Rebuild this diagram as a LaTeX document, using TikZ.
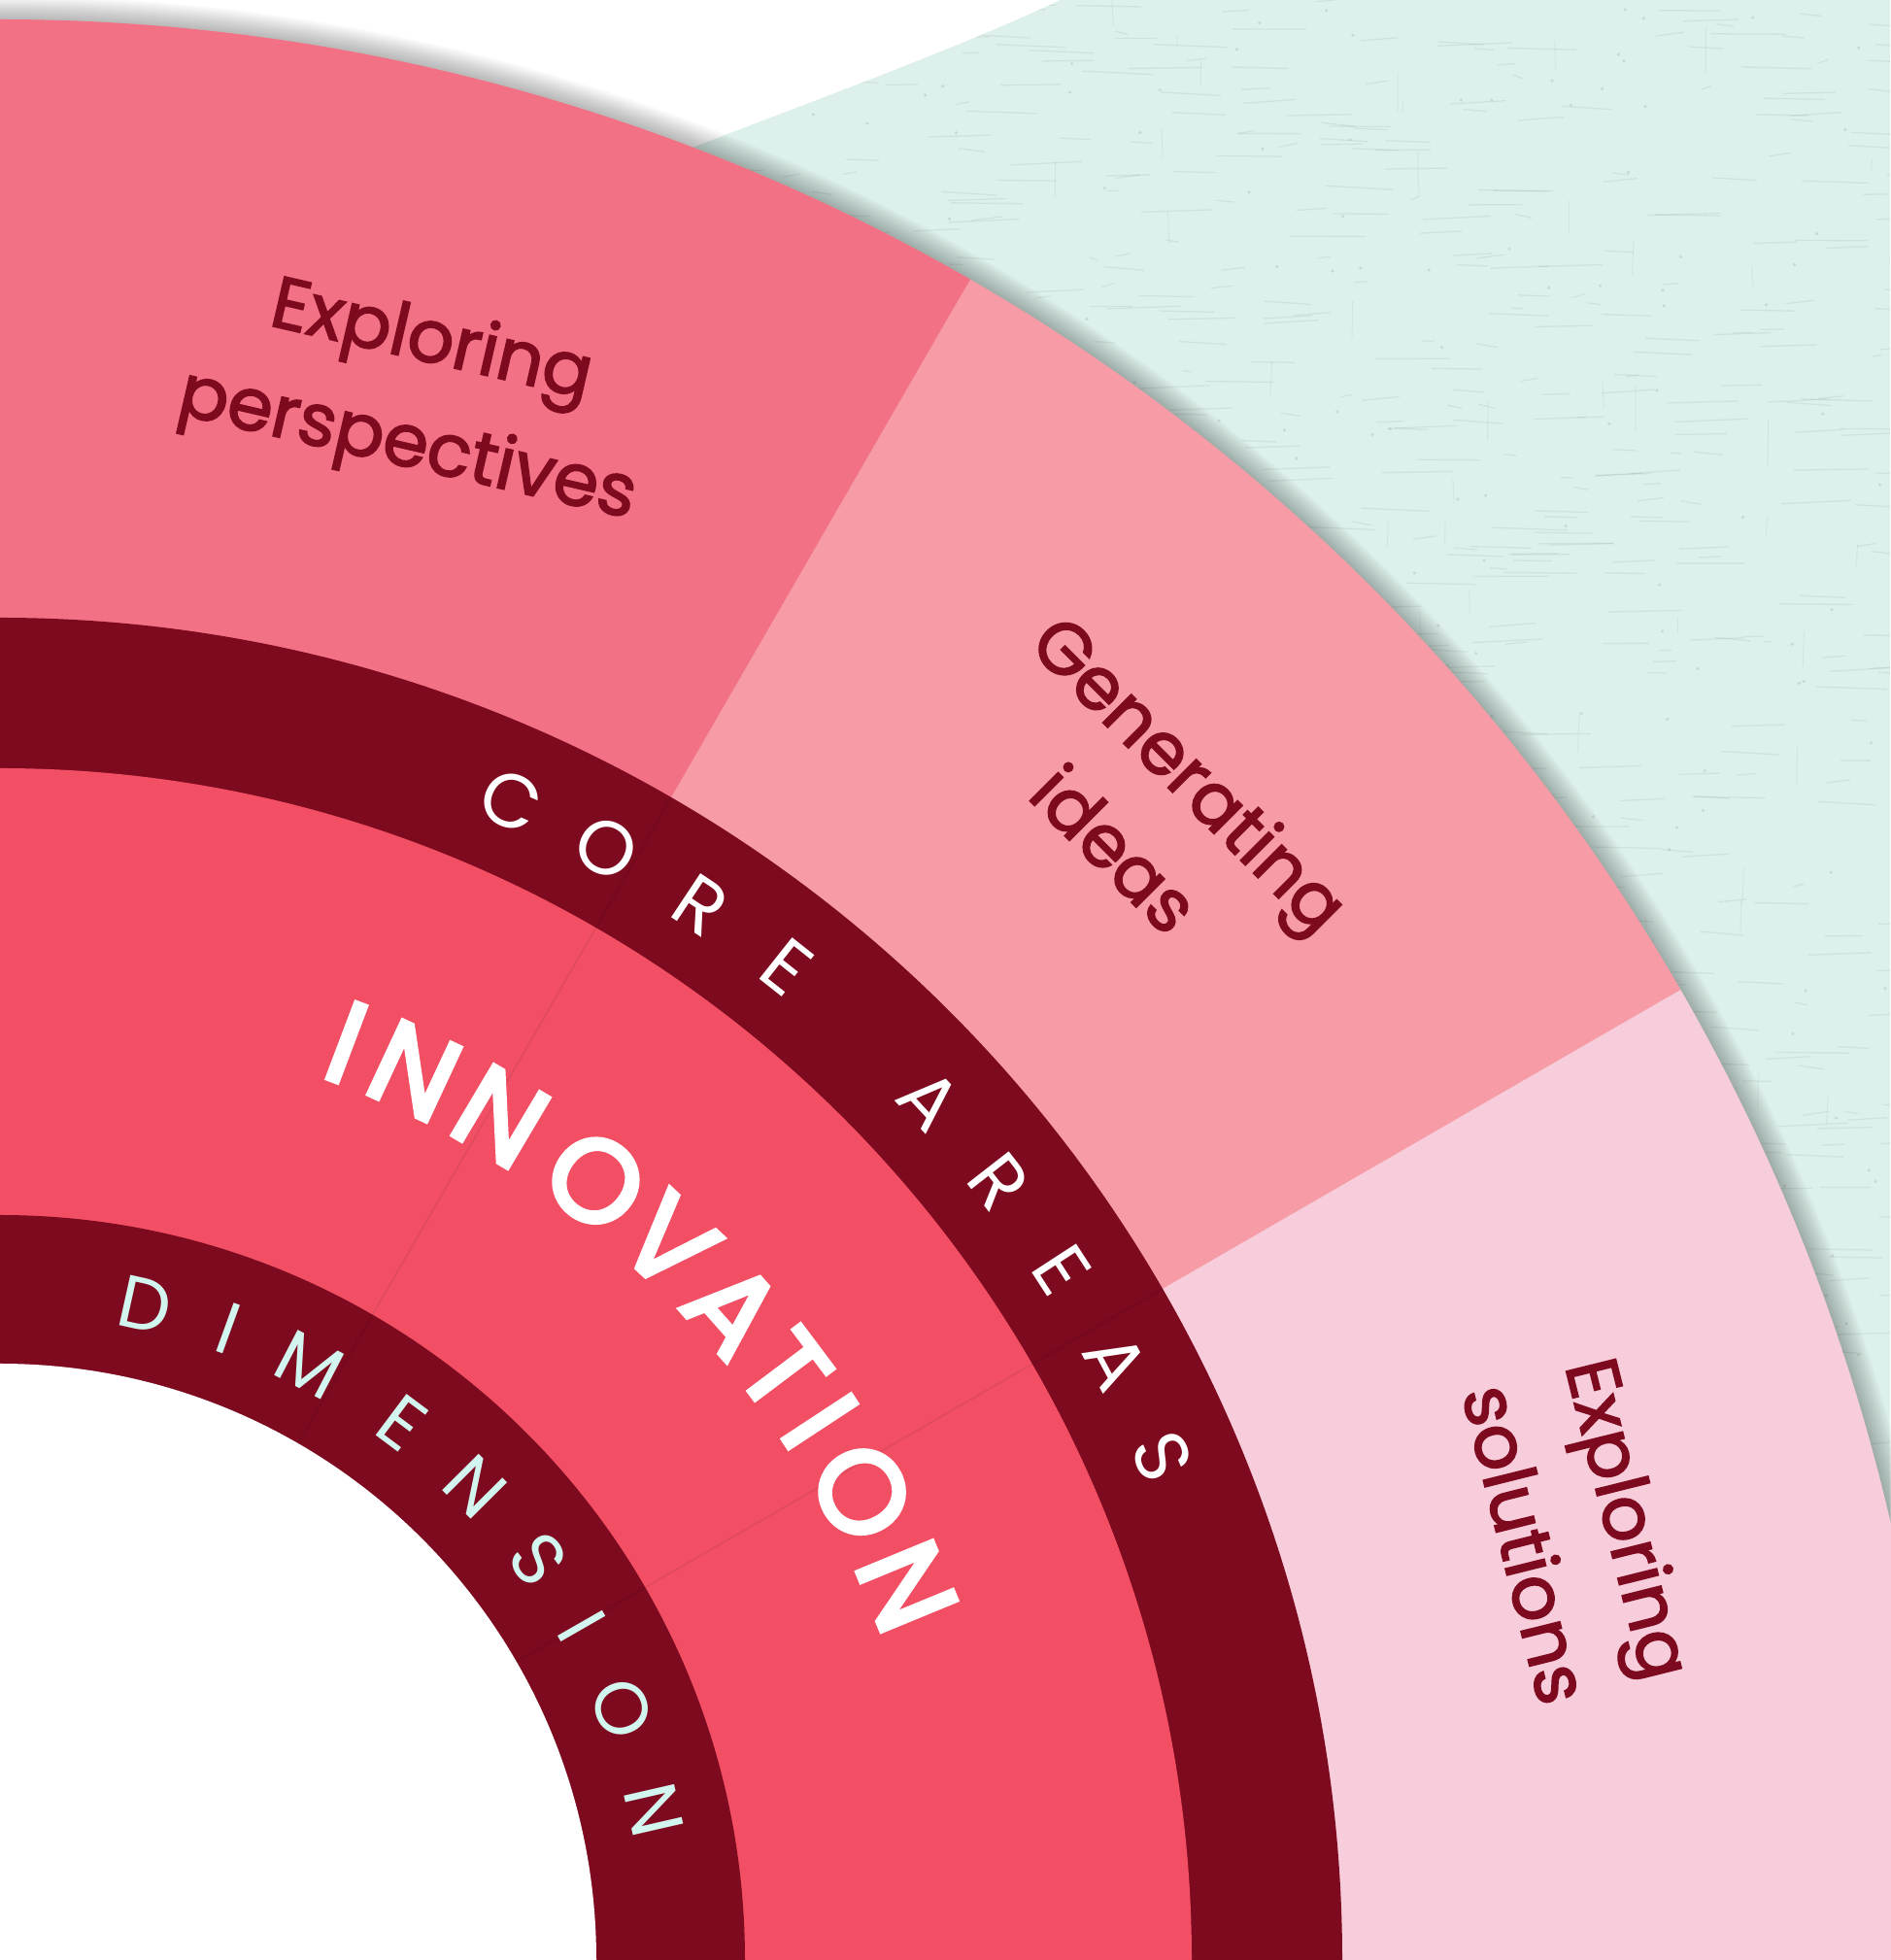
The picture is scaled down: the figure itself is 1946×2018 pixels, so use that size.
\documentclass[tikz,border=0pt]{standalone}
\usepackage{fontspec}
\setmainfont{Poppins}
\newfontfamily\labelfont[FakeBold=2.2]{Poppins}
\newfontfamily\innovfont[FakeBold=4]{Poppins}
\definecolor{ringdark}{HTML}{7D0A1F}
\definecolor{innov}{HTML}{F24F64}
\definecolor{persp}{HTML}{F37184}
\definecolor{gener}{HTML}{F79CA7}
\definecolor{solut}{HTML}{F8CDDB}
\definecolor{mintbg}{HTML}{DDF0EB}
\definecolor{minttext}{HTML}{D3F5EF}
\definecolor{labeltext}{HTML}{7D0A1F}
\definecolor{texgrey}{HTML}{8A9B96}
\begin{document}
\begin{tikzpicture}[x=1pt,y=1pt,
  sectorlabel/.style={text=labeltext, align=center, inner sep=0pt,
    font=\labelfont\fontsize{75}{110}\selectfont},
  coreletter/.style={text=white, inner sep=0pt, font=\fontsize{78}{78}\selectfont},
  innovletter/.style={text=white, inner sep=0pt, font=\innovfont\fontsize{120}{120}\selectfont},
  dimletter/.style={text=minttext, inner sep=0pt, font=\fontsize{76}{76}\selectfont},
  seam/.style={draw=black, opacity=0.06, line width=2pt},
  ringshadow/.style={draw=black, opacity=0.022}]
\useasboundingbox (0,0) rectangle (1946,2018);
% paper background
\fill[white] (0,0) rectangle (1946,2018);
% mint textured surface
\path[fill=mintbg] (1092,2018) -- (1946,2018) -- (1946,0) -- (0,0) -- (0,1500)
  -- (713,1866) .. controls (850,1919) and (985,1968) .. (1092,2018) -- cycle;
\begin{scope}
  \clip (1092,2018) -- (1946,2018) -- (1946,0) -- (0,0) -- (0,1500)
  -- (713,1866) .. controls (850,1919) and (985,1968) .. (1092,2018) -- cycle;
  \pgfmathsetseed{42}
  \foreach \n in {1,...,1200}{
    \pgfmathsetmacro{\xx}{700+1246*rnd}
    \pgfmathsetmacro{\yy}{2018*rnd}
    \pgfmathsetmacro{\ll}{8+70*rnd}
    \pgfmathsetmacro{\dd}{8*rnd-4}
    \draw[texgrey, opacity=0.16, line width=1.3pt] (\xx,\yy) -- ++(\ll,\dd);
  }
  \foreach \n in {1,...,120}{
    \pgfmathsetmacro{\xx}{700+1246*rnd}
    \pgfmathsetmacro{\yy}{2018*rnd}
    \pgfmathsetmacro{\ll}{10+40*rnd}
    \draw[texgrey, opacity=0.12, line width=1pt] (\xx,\yy) -- ++(4*rnd-2,\ll);
  }
  \foreach \n in {1,...,320}{
    \pgfmathsetmacro{\xx}{700+1246*rnd}
    \pgfmathsetmacro{\yy}{2018*rnd}
    \fill[texgrey, opacity=0.25] (\xx,\yy) circle (1.8);
  }
\end{scope}
% soft shadow round the outer ring
\foreach \k in {1,...,12}
  \draw[ringshadow, line width=\k*4pt] (0,0) circle[radius=1998];
% outer ring sectors
\fill[solut] (0,0) -- (0:1998) arc[start angle=0, end angle=30, radius=1998] -- cycle;
\fill[gener] (0,0) -- (30:1998) arc[start angle=30, end angle=60, radius=1998] -- cycle;
\fill[persp] (0,0) -- (60:1998) arc[start angle=60, end angle=90, radius=1998] -- cycle;
% core areas ring
\fill[ringdark] (0,0) -- (0:1382) arc[start angle=0, end angle=90, radius=1382] -- cycle;
% innovation ring
\fill[innov] (0,0) -- (0:1227) arc[start angle=0, end angle=90, radius=1227] -- cycle;
% dimension ring
\fill[ringdark] (0,0) -- (0:767) arc[start angle=0, end angle=90, radius=767] -- cycle;
% inner white disc
\fill[white] (0,0) -- (0:614) arc[start angle=0, end angle=90, radius=614] -- cycle;
% faint seams
\draw[seam] (30:614) -- (30:1382);
\draw[seam] (60:614) -- (60:1382);
% sector labels
\node[sectorlabel, rotate=-13] (persplabel) at (75:1667) {Exploring\\perspectives};
\node[sectorlabel, rotate=-45] (genlabel) at (44.9:1677) {Generating\\ideas};
\node[sectorlabel, rotate=-76] (sollabel) at (15.2:1685) {Exploring\\solutions};
% CORE AREAS
\foreach \ch/\a [count=\i] in {C/66.2,O/61.4,R/56.4,E/51.6,A/42.8,R/37.9,E/33.0,A/28.2,S/23.4}
  \node[coreletter, rotate=\a-90] (core\i) at (\a:1304) {\ch};
% INNOVATION
\foreach \ch/\a [count=\i] in {I/69.3,N/65.0,N/59.3,O/52.6,V/47.0,A/41.6,T/36.9,I/33.3,O/28.5,N/22.4}
  \node[innovletter, rotate=\a-90] (innov\i) at (\a:1010) {\ch};
% DIMENSION
\foreach \ch/\a [count=\i] in {D/77.5,I/70.1,M/62.5,E/53.2,N/44.9,S/36.7,I/29.8,O/22.0,N/12.9}
  \node[dimletter, rotate=\a-90] (dim\i) at (\a:691) {\ch};
\end{tikzpicture}
\end{document}
